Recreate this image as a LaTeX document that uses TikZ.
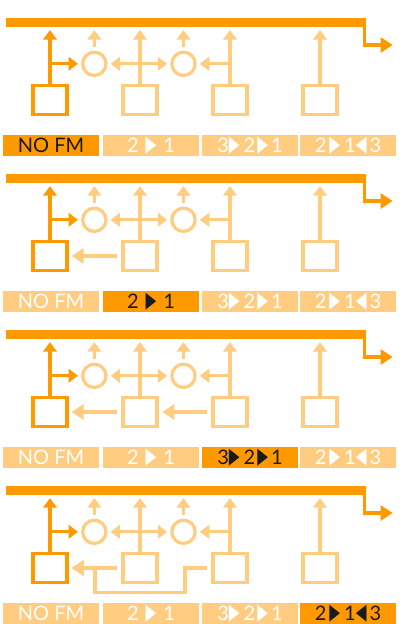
\documentclass[tikz,border=0pt]{standalone}
\usepackage{fontspec}
\setmainfont{Lato}
\newfontfamily\symfont{DejaVu Sans}
\usetikzlibrary{arrows.meta, positioning, calc}
\definecolor{colDark}{RGB}{255,153,0}
\definecolor{colLight}{RGB}{255,204,128}
\definecolor{colText}{RGB}{26,26,26}
\tikzset{
    unitbox/.style={rectangle, draw=colLight, line width=3.2pt,
        minimum width=34pt, minimum height=29.5pt, inner sep=0pt},
    sumnode/.style={circle, draw=colLight, line width=3.2pt,
        minimum size=23.3pt, inner sep=0pt},
    busbar/.style={rectangle, fill=colDark, minimum width=360pt,
        minimum height=9.3pt, inner sep=0pt},
    tabbox/.style={rectangle, fill=colLight, text=white, minimum width=96pt,
        minimum height=21pt, inner sep=0pt, font=\fontsize{20}{20}\selectfont},
    tabsel/.code 2 args={\ifnum#1=#2\relax\pgfkeysalso{fill=colDark, text=colText}\fi},
    arrow/.style={-{Triangle[length=9.5pt, width=13.5pt]}, line width=3.2pt, colLight},
    bigarrow/.style={-{Triangle[length=12pt, width=15pt]}, line width=3.2pt, colLight}
}
\newcommand{\rtri}{{\symfont\raisebox{0.8pt}{\scalebox{0.7}[1.12]{▶}}}}
\newcommand{\ltri}{{\symfont\raisebox{0.8pt}{\scalebox{0.7}[1.12]{◀}}}}

\begin{document}
\begin{tikzpicture}[x=1pt, y=-1pt]
    \useasboundingbox (0,0) rectangle (402,624);

    \foreach \p in {0,1,2,3} {
    \begin{scope}[shift={(0,156*\p)}]
        % bus and output
        \node[busbar] (bus-\p) at (186,22.3) {};
        \coordinate (out-\p) at (392.7,45);
        \draw[bigarrow, colDark] ([xshift=-1.6pt]bus-\p.east) |- (out-\p);

        % units and summing points
        \node[unitbox, draw=colDark] (u1-\p) at (50,100) {};
        \node[unitbox] (u2-\p) at (140,100) {};
        \node[unitbox] (u3-\p) at (230,100) {};
        \node[unitbox] (u4-\p) at (320,100) {};
        \node[sumnode] (s1-\p) at (94.3,63.8) {};
        \node[sumnode] (s2-\p) at (183.5,63.8) {};

        \draw[arrow, colDark, shorten >=3pt] (u1-\p.north) -- (u1-\p.north |- bus-\p.south);
        \foreach \ux in {u2,u3,u4}
            \draw[arrow, shorten >=3pt] (\ux-\p.north) -- (\ux-\p.north |- bus-\p.south);
        \foreach \sx in {s1,s2}
            \draw[arrow, shorten <=3.7pt, shorten >=3pt] (\sx-\p.north) -- (\sx-\p.north |- bus-\p.south);

        \draw[arrow, colDark, shorten >=3pt] (u1-\p |- s1-\p) -- (s1-\p);
        \draw[arrow, shorten >=3pt] (u2-\p |- s1-\p) -- (s1-\p);
        \draw[arrow, shorten >=3pt] (u2-\p |- s2-\p) -- (s2-\p);
        \draw[arrow, shorten >=3pt] (u3-\p |- s2-\p) -- (s2-\p);

        % mode tabs
        \node[tabbox, tabsel={\p}{0}] (t1-\p) at (51,145.5) {NO FM};
        \node[tabbox, tabsel={\p}{1}] (t2-\p) at (151,145.5) {2\hspace{7pt}\rtri\hspace{7pt}1};
        \node[tabbox, tabsel={\p}{2}] (t3-\p) at (250,145.5) {3\rtri\hspace{4pt}2\hspace{2pt}\rtri\hspace{3pt}1};
        \node[tabbox, tabsel={\p}{3}] (t4-\p) at (348,145.5) {2\hspace{3pt}\rtri\hspace{4pt}1\ltri\hspace{3pt}3};
    \end{scope}
    }

    % feedback paths
    \draw[bigarrow, shorten <=4.7pt, shorten >=3.1pt] (u2-1) -- (u1-1);
    \draw[bigarrow, shorten <=4.7pt, shorten >=3.1pt] (u2-2) -- (u1-2);
    \draw[bigarrow, shorten <=4.7pt, shorten >=3.7pt] (u3-2) -- (u2-2);
    \draw[bigarrow, shorten <=4.7pt, shorten >=3.1pt] (u2-3) -- (u1-3);
    \coordinate (k1) at (185,592.3);
    \coordinate (k2) at (95,592.3);
    \draw[bigarrow, shorten <=4.7pt, shorten >=3.1pt] (u3-3.west) -| (k1) -- (k2) |- (u1-3.east);

\end{tikzpicture}
\end{document}
